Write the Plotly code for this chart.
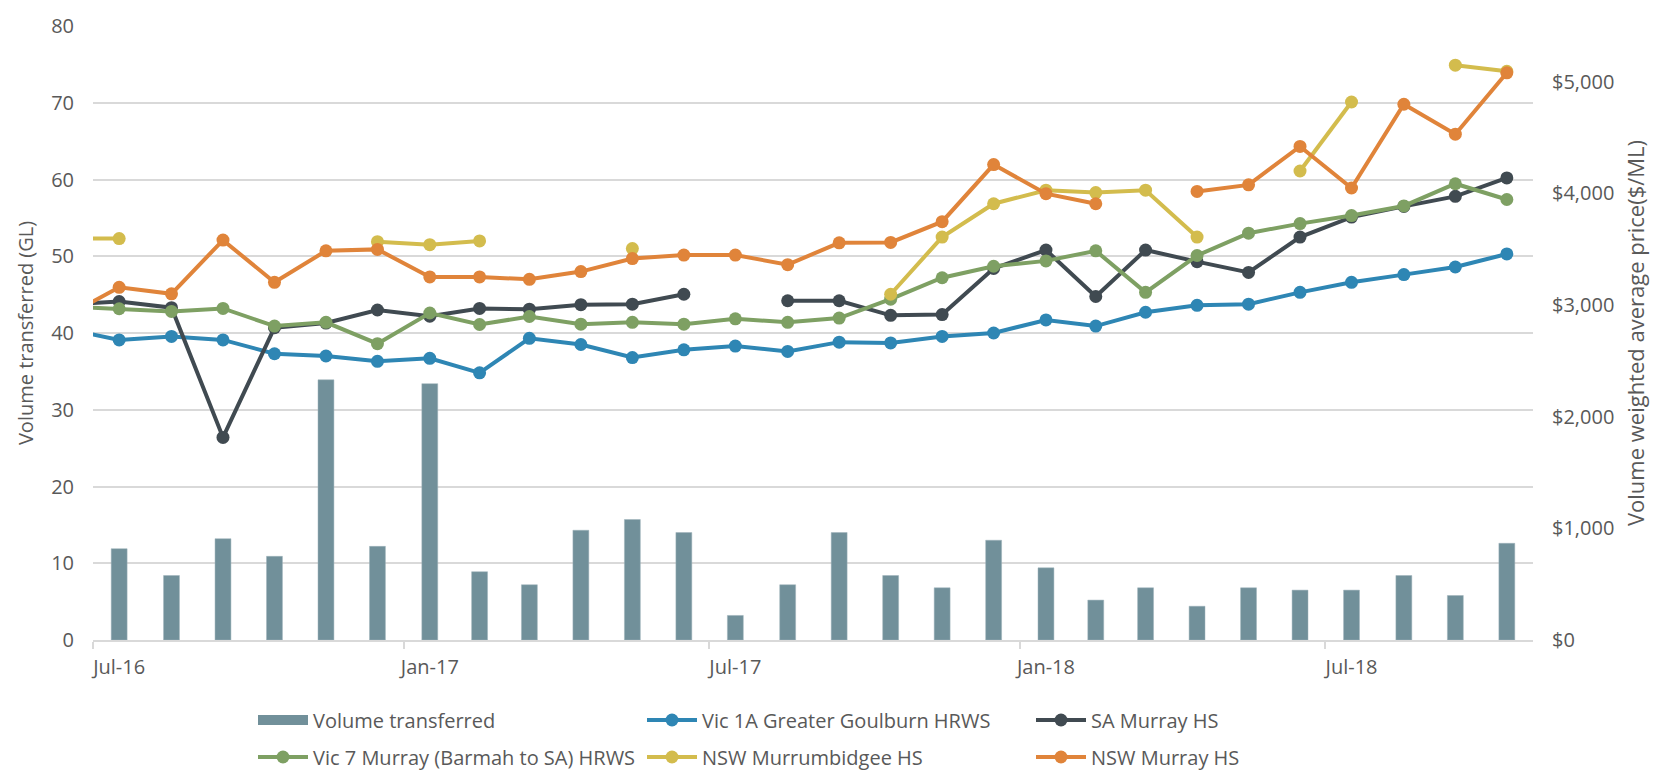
import plotly.graph_objects as go
import pandas as pd

# ---------------- data ----------------
bar_months = ["2016-07", "2016-08", "2016-09", "2016-10", "2016-11", "2016-12",
              "2017-01", "2017-02", "2017-03", "2017-04", "2017-05", "2017-06",
              "2017-07", "2017-08", "2017-09", "2017-10", "2017-11", "2017-12",
              "2018-01", "2018-02", "2018-03", "2018-04", "2018-05", "2018-06",
              "2018-07", "2018-08", "2018-09", "2018-10"]
price_months = ["2016-06"] + bar_months

volume_gl = [11.9, 8.4, 13.2, 10.9, 33.9, 12.2, 33.4, 8.9, 7.2, 14.3, 15.7, 14.0,
             3.2, 7.2, 14.0, 8.4, 6.8, 13.0, 9.4, 5.2, 6.8, 4.4, 6.8, 6.5,
             6.5, 8.4, 5.8, 12.6]

vic1a = [2784, 2688, 2719, 2688, 2564, 2544, 2496, 2523, 2393, 2702, 2647, 2530,
         2599, 2633, 2585, 2668, 2661, 2719, 2750, 2867, 2812, 2936, 2998, 3008,
         3114, 3204, 3273, 3341, 3458]
sa_murray = [3004, 3032, 2977, 1815, 2798, 2839, 2956, 2901, 2970, 2963, 3004, 3008,
             3097, None, 3039, 3039, 2908, 2915, 3328, 3493, 3077, 3493, 3389, 3293,
             3609, 3788, 3884, 3974, 4139]
vic7 = [2987, 2967, 2943, 2970, 2812, 2846, 2654, 2929, 2826, 2898, 2829, 2846,
        2829, 2877, 2846, 2884, 3053, 3245, 3348, 3396, 3486, 3114, 3444, 3644,
        3730, 3802, 3888, 4087, 3946]
nsw_murrumbidgee = [3596, 3596, None, None, None, None, 3568, 3541, 3575, None, None, 3506,
                    None, None, None, None, 3097, 3609, 3908, 4029, 4008, 4029, 3609, None,
                    4201, 4819, None, 5149, 5094]
nsw_murray = [2908, 3159, 3101, 3582, 3204, 3486, 3499, 3252, 3252, 3231, 3300, 3417,
              3448, 3448, 3362, 3558, 3561, 3747, 4259, 3998, 3908, None, 4018, 4077,
              4421, 4049, 4799, 4531, 5081]

tick_months = ["2016-07", "2017-01", "2017-07", "2018-01", "2018-07"]
tick_labels = ["Jul-16", "Jan-17", "Jul-17", "Jan-18", "Jul-18"]


def mid_month(m):
    p = pd.Period(m, freq="M")
    s = p.start_time
    e = (p + 1).start_time
    return s + (e - s) / 2


bar_x = [mid_month(m) for m in bar_months]
price_x = [mid_month(m) for m in price_months]

GRID = "#D9D9D9"
TXT = "#595959"
FONT = "Open Sans, sans-serif"
BAR_COL = "#71909A"

fig = go.Figure()

fig.add_trace(go.Bar(
    x=bar_x, y=volume_gl, name="Volume transferred",
    marker=dict(color=BAR_COL, line=dict(color="#9FB3BA", width=0.5)),
    width=[0.31 * 30.4 * 86400000] * len(bar_x),
    showlegend=False,
))
# legend swatch for the bars (wide rectangle like the original)
fig.add_trace(go.Scatter(
    x=[None], y=[None], name="Volume transferred", mode="lines",
    line=dict(color=BAR_COL, width=14), legend="legend",
))

line_series = [
    ("Vic 1A Greater Goulburn HRWS", vic1a, "#2E86B4", "legend"),
    ("SA Murray HS", sa_murray, "#404A51", "legend"),
    ("Vic 7 Murray (Barmah to SA) HRWS", vic7, "#7EA063", "legend2"),
    ("NSW Murrumbidgee HS", nsw_murrumbidgee, "#D3BC4D", "legend2"),
    ("NSW Murray HS", nsw_murray, "#E0843A", "legend2"),
]
for name, vals, col, lg in line_series:
    fig.add_trace(go.Scatter(
        x=price_x, y=vals, name=name, yaxis="y2", mode="lines+markers",
        line=dict(color=col, width=4), marker=dict(color=col, size=13),
        connectgaps=False, legend=lg,
    ))

legend_common = dict(
    orientation="h", xref="container", yref="container",
    x=253 / 1657, xanchor="left", yanchor="middle",
    entrywidth=324, entrywidthmode="pixels", itemwidth=50,
    font=dict(family=FONT, size=20, color=TXT),
    bgcolor="rgba(0,0,0,0)", traceorder="normal",
)

fig.update_layout(
    width=1657, height=772,
    margin=dict(l=93, r=124, t=23, b=132),
    paper_bgcolor="white", plot_bgcolor="white",
    font=dict(family=FONT, size=20, color=TXT),
    legend=dict(legend_common, y=1 - 720 / 772),
    legend2=dict(legend_common, y=1 - 757 / 772),
    xaxis=dict(
        type="date",
        range=["2016-07-01", "2018-11-01"],
        tickmode="array",
        tickvals=[mid_month(m) for m in tick_months],
        ticktext=tick_labels,
        ticks="",
        showgrid=False,
        showline=True, linecolor=GRID, linewidth=1.5,
        tickfont=dict(size=20, color=TXT),
        ticklabelstandoff=8,
        minor=dict(
            tickmode="array",
            tickvals=[pd.Period(m, freq="M").start_time for m in tick_months],
            ticks="outside", ticklen=7, tickcolor=GRID, tickwidth=1.5,
            showgrid=False,
        ),
    ),
    yaxis=dict(
        range=[0, 80], dtick=10,
        showgrid=True, gridcolor=GRID, gridwidth=1.5,
        zeroline=False,
        tickfont=dict(size=20, color=TXT),
        ticks="", ticklabelstandoff=18,
        title=dict(text="Volume transferred (GL)", standoff=12,
                   font=dict(size=20, color=TXT)),
    ),
    yaxis2=dict(
        overlaying="y", side="right",
        range=[0, 5500], dtick=1000,
        tickprefix="$", tickformat=",",
        showgrid=False, zeroline=False,
        tickfont=dict(size=20, color=TXT),
        ticks="", ticklabelstandoff=18,
        title=dict(text="Volume weighted average price($/ML)", standoff=15,
                   font=dict(size=22, color=TXT)),
    ),
)

fig.write_html("out.html", config={"displayModeBar": False},
               post_script="document.body.style.margin='0px';")
